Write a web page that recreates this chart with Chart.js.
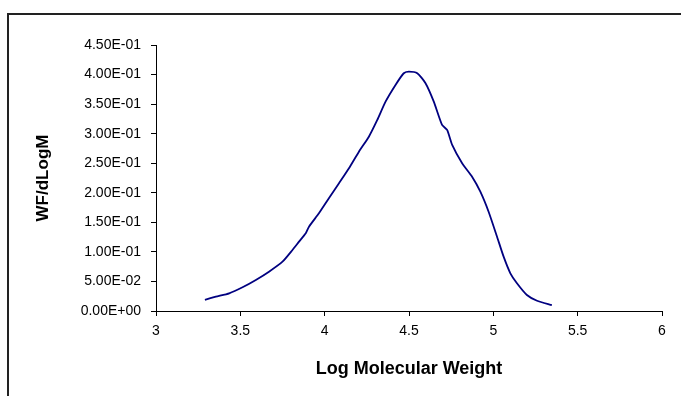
<!DOCTYPE html>
<html>
<head>
<meta charset="utf-8">
<script src="https://cdn.jsdelivr.net/npm/chart.js@4"></script>
<style>
  html, body { margin: 0; padding: 0; background: #fff; overflow: hidden; }
  #wrap { position: relative; width: 681px; height: 396px; }
  #frame { position: absolute; left: 7px; top: 13px; width: 800px; height: 500px; border: 2px solid #222; }
  canvas { position: absolute; left: 0; top: 0; }
</style>
</head>
<body>
<div id="wrap">
  <div id="frame"></div>
  <canvas id="gpcChart" width="681" height="396"></canvas>
</div>
<script>
// molecular weight distribution
const logMW = [3.29, 3.355, 3.434, 3.513, 3.592, 3.670, 3.750, 3.809, 3.848, 3.888,
  3.907, 3.966, 4.025, 4.085, 4.144, 4.203, 4.262, 4.312, 4.361, 4.420, 4.469,
  4.499, 4.549, 4.598, 4.647, 4.696, 4.726, 4.756, 4.815, 4.874, 4.923, 4.972,
  5.022, 5.061, 5.101, 5.140, 5.199, 5.259, 5.347];
const wfDlogM = [0.0190, 0.0242, 0.0299, 0.0401, 0.0525, 0.0665, 0.0834, 0.1032, 0.1173, 0.1315,
  0.1426, 0.1653, 0.1907, 0.2161, 0.2415, 0.2695, 0.2949, 0.3232, 0.3541, 0.3824, 0.4022,
  0.4049, 0.4022, 0.3853, 0.3541, 0.3147, 0.3063, 0.2809, 0.2499, 0.2272, 0.2019, 0.1680,
  0.1257, 0.0919, 0.0638, 0.0469, 0.0271, 0.0174, 0.0100];

const xTitle = 'Log Molecular Weight';
const yTitle = 'WF/dLogM';

// Excel style 4.50E-01
function sci(v) {
  if (Math.abs(v) < 1e-12) return '0.00E+00';
  const exp = Math.floor(Math.log10(Math.abs(v)) + 1e-9);
  const mant = v / Math.pow(10, exp);
  const sign = exp < 0 ? '-' : '+';
  return mant.toFixed(2) + 'E' + sign + String(Math.abs(exp)).padStart(2, '0');
}

const points = logMW.map((x, i) => ({ x: x, y: wfDlogM[i] }));

Chart.defaults.font.family = '"Liberation Sans", Arial, sans-serif';
Chart.defaults.color = '#000';

const ctx = document.querySelector('#gpcChart').getContext('2d');
const gpcChart = new Chart(ctx, {
  type: 'scatter',
  data: {
    datasets: [{
      label: yTitle,
      data: points,
      showLine: true,
      borderColor: '#000080',
      borderWidth: 1.8,
      pointRadius: 0,
      tension: 0.2
    }]
  },
  options: {
    responsive: false,
    animation: false,
    layout: { padding: { left: 0, top: 45, right: 19, bottom: 0 } },
    plugins: {
      legend: { display: false },
      tooltip: { enabled: false }
    },
    scales: {
      x: {
        type: 'linear',
        min: 3,
        max: 6,
        ticks: { stepSize: 0.5, padding: 7, font: { size: 14 }, maxRotation: 0, callback: v => String(v) },
        grid: { drawOnChartArea: false, tickLength: 5, color: '#000' },
        border: { color: '#000' },
        title: { display: true, text: xTitle, font: { size: 18, weight: 'bold' }, padding: { bottom: 16 } },
        afterFit: scale => { scale.height = 85; }
      },
      y: {
        min: 0,
        max: 0.45,
        ticks: { stepSize: 0.05, padding: 10, font: { size: 14 }, callback: v => sci(v) },
        grid: { drawOnChartArea: false, tickLength: 5, color: '#000' },
        border: { color: '#000' },
        title: { display: true, text: yTitle, font: { size: 17, weight: 'bold' }, padding: { top: 33 } },
        afterFit: scale => { scale.width = 156; }
      }
    }
  }
});
</script>
</body>
</html>
